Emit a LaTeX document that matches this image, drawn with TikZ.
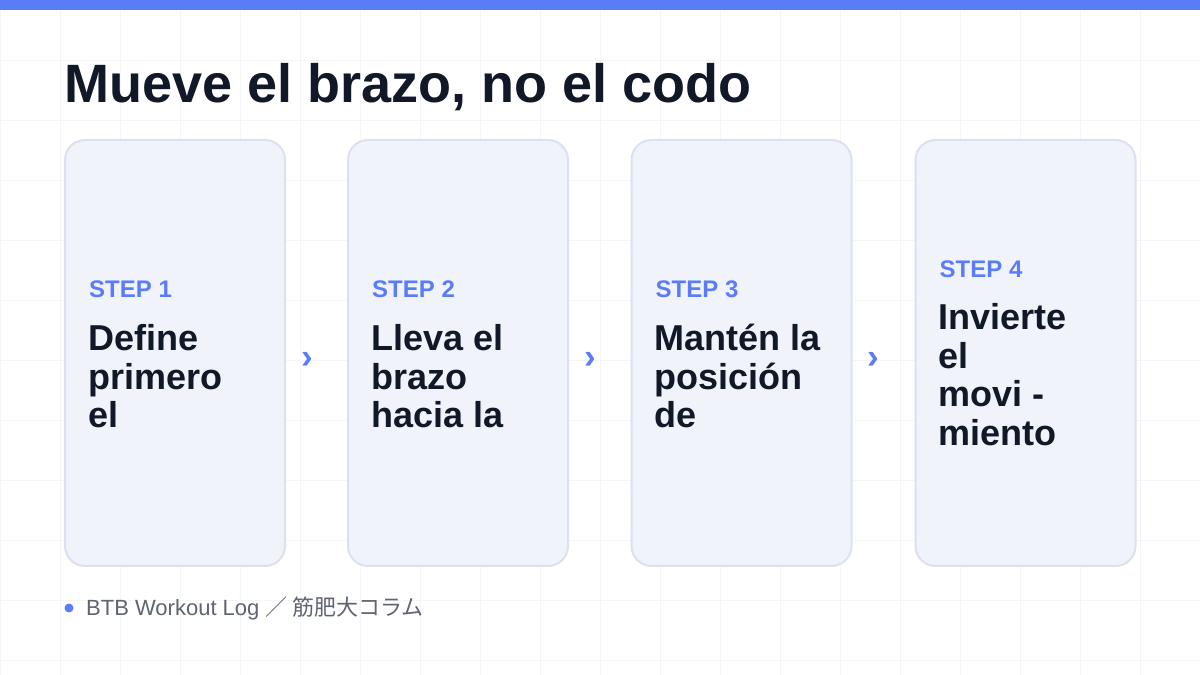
\documentclass[tikz,border=0pt]{standalone}
\usepackage{fontspec}
\setmainfont{Liberation Sans}
\newfontfamily\cjk{Noto Sans CJK JP}
\usetikzlibrary{positioning}

\definecolor{accent}{HTML}{5B7CF7}
\definecolor{ink}{HTML}{111827}
\definecolor{cardfill}{HTML}{F1F3FB}
\definecolor{cardline}{HTML}{DDE1EF}
\definecolor{gridline}{HTML}{F4F5F7}
\definecolor{muted}{HTML}{5F6472}

\tikzset{
  card/.style={draw=cardline, fill=cardfill, line width=2pt, rounded corners=20pt,
    minimum width=220pt, minimum height=426pt, inner sep=0pt},
  steplabel/.style={anchor=base west, text=accent, inner sep=0pt,
    font=\fontsize{24}{28}\selectfont\bfseries},
  % base anchor of a multi-line node sits on its last line
  stepbody/.style={anchor=base west, align=left, text=ink, inner sep=0pt,
    font=\fontsize{36}{38.7}\selectfont\bfseries},
  chevron/.style={text=accent, inner sep=0pt, font=\fontsize{35}{35}\selectfont\bfseries},
}

\begin{document}
\begin{tikzpicture}[x=1pt, y=1pt]
    \useasboundingbox (0,0) rectangle (1200,675);
    \fill[white] (0,0) rectangle (1200,675);

    % Background grid and top bar
    \draw[gridline, line width=0.8pt, shift={(0,15)}] (0,-15) grid[step=60pt] (1200,660);
    \fill[accent] (0,665) rectangle (1200,675);

    % Title
    \node[anchor=base west, inner sep=0pt, text=ink, font=\fontsize{54}{60}\selectfont\bfseries]
        (title) at (64,572) {Mueve el brazo, no el codo};

    % Step cards
    \node[card] (card1) at (175,322) {};
    \node[card] (card2) at (458,322) {};
    \node[card] (card3) at (741.5,322) {};
    \node[card] (card4) at (1025.5,322) {};

    \node[steplabel] (step1) at (89,377) {STEP 1};
    \node[stepbody] (text1) at (88,247) {Define\\primero\\el};

    \node[steplabel] (step2) at (372,377) {STEP 2};
    \node[stepbody] (text2) at (371,247) {Lleva el\\brazo\\hacia la};

    \node[steplabel] (step3) at (655.5,377) {STEP 3};
    \node[stepbody] (text3) at (654.5,247) {Mantén la\\posición\\de};

    \node[steplabel] (step4) at (939.5,397) {STEP 4};
    \node[stepbody] (text4) at (938.5,229.5) {Invierte\\el\\movi -\\miento};

    % Chevrons between cards
    \node[chevron] (arr12) at (307,315) {›};
    \node[chevron] (arr23) at (590,315) {›};
    \node[chevron] (arr34) at (873.5,315) {›};

    % Footer
    \fill[accent] (69,67) circle (4.5pt);
    \node[anchor=base west, inner sep=0pt, text=muted, font=\fontsize{22}{26}\selectfont]
        (footer) at (86,59) {BTB Workout Log {\cjk ／ 筋肥大コラム}};
\end{tikzpicture}
\end{document}
